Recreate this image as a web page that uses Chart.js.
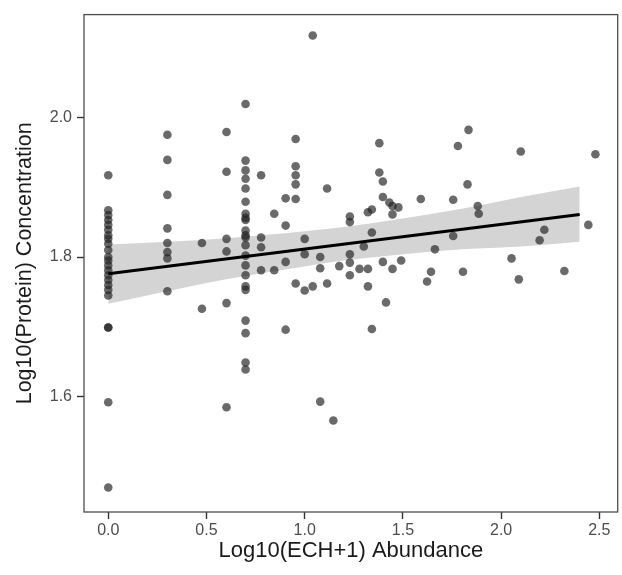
<!DOCTYPE html>
<html>
<head>
<meta charset="utf-8">
<script src="https://cdn.jsdelivr.net/npm/chart.js@4.4.0/dist/chart.umd.min.js"></script>
<style>
html,body{margin:0;padding:0;background:#fff;}
#wrap{width:622px;height:575px;position:relative;}
</style>
</head>
<body>
<div id="wrap"><canvas id="c" width="622" height="575"></canvas></div>
<script>
// Observed points: Log10(ECH+1) abundance (x) and Log10(protein) concentration (y)
const abundance = [
  0,0,0,0,0,0,0,0,0,0,0,0,0,0,0,0,0,0,0,0,0,0,0,
  0.301,0.301,0.301,0.301,0.301,0.301,0.301,0.301,
  0.477,0.477,
  0.602,0.602,0.602,0.602,0.602,0.602,
  0.699,0.699,0.699,0.699,0.699,0.699,0.699,0.699,0.699,0.699,0.699,0.699,0.699,0.699,0.699,0.699,0.699,0.699,0.699,0.699,0.699,0.699,
  0.778,0.778,0.778,0.778,
  0.845,0.845,
  0.903,0.903,0.903,0.903,
  0.954,0.954,0.954,0.954,0.954,0.954,
  1.000,1.000,1.000,
  1.041,1.041,
  1.079,1.079,1.079,
  1.114,1.114,
  1.146,
  1.176,
  1.230,1.230,1.230,1.230,1.230,
  1.279,
  1.301,
  1.322,1.322,1.322,
  1.342,1.342,1.342,
  1.380,1.380,
  1.398,1.398,1.398,
  1.414,
  1.431,
  1.447,1.447,1.447,
  1.477,
  1.491,
  1.591,
  1.623,
  1.643,
  1.663,
  1.756,1.756,
  1.780,
  1.806,
  1.829,
  1.834,
  1.881,
  1.886,
  2.053,
  2.090,
  2.100,
  2.196,
  2.220,
  2.322,
  2.444,
  2.480
];
const concentration = [
  1.917,1.867,1.860,1.853,1.846,1.839,1.831,1.826,1.819,1.810,1.800,1.795,1.788,1.781,1.774,1.767,1.760,1.753,1.745,1.699,1.699,1.592,1.470,
  1.975,1.939,1.889,1.841,1.820,1.807,1.798,1.751,
  1.820,1.726,
  1.979,1.922,1.826,1.808,1.734,1.585,
  2.019,1.938,1.924,1.912,1.898,1.879,1.862,1.856,1.853,1.838,1.831,1.828,1.817,1.802,1.788,1.774,1.758,1.753,1.709,1.691,1.649,1.639,
  1.917,1.828,1.814,1.781,
  1.862,1.781,
  1.884,1.845,1.793,1.696,
  1.969,1.930,1.917,1.904,1.883,1.762,
  1.826,1.804,1.752,
  2.117,1.758,
  1.800,1.784,1.593,
  1.898,1.762,
  1.566,
  1.787,
  1.858,1.850,1.804,1.792,1.774,
  1.783,
  1.815,
  1.864,1.783,1.758,
  1.868,1.835,1.697,
  1.963,1.921,
  1.908,1.886,1.793,
  1.735,
  1.878,
  1.873,1.861,1.783,
  1.871,
  1.795,
  1.883,
  1.765,
  1.779,
  1.811,
  1.882,1.830,
  1.959,
  1.779,
  1.904,
  1.982,
  1.873,
  1.862,
  1.798,
  1.768,
  1.951,
  1.824,
  1.839,
  1.780,
  1.846,
  1.947
];
// Fitted linear trend and its confidence band
const fitX = [0, 2.40];
const fitY = [1.776, 1.861];
const bandX = [0, 0.3, 0.6, 0.9, 1.2, 1.5, 1.8, 2.1, 2.4];
const bandUpper = [1.818, 1.822, 1.827, 1.834, 1.843, 1.855, 1.869, 1.886, 1.901];
const bandLower = [1.733, 1.751, 1.768, 1.782, 1.795, 1.804, 1.811, 1.815, 1.822];
// Axis ticks
const xTicks = [0.0, 0.5, 1.0, 1.5, 2.0, 2.5];
const yTicks = [1.6, 1.8, 2.0];

const pts = abundance.map((x, i) => ({x: x, y: concentration[i]}));
const fitPts = fitX.map((x, i) => ({x: x, y: fitY[i]}));
const upPts = bandX.map((x, i) => ({x: x, y: bandUpper[i]}));
const loPts = bandX.map((x, i) => ({x: x, y: bandLower[i]}));

const FONT = "'Liberation Sans', Arial, Helvetica, sans-serif";

const panelBorder = {
  id: 'panelBorder',
  afterDraw(chart) {
    const a = chart.chartArea, ctx = chart.ctx;
    ctx.save();
    ctx.strokeStyle = '#4d4d4d';
    ctx.lineWidth = 1.3;
    ctx.strokeRect(a.left, a.top, a.right - a.left, a.bottom - a.top);
    ctx.restore();
  }
};

new Chart(document.getElementById('c'), {
  type: 'scatter',
  data: {
    datasets: [
      {
        type: 'line', data: fitPts, borderColor: '#000', borderWidth: 3,
        pointRadius: 0, fill: false, order: 0
      },
      {
        type: 'scatter', data: pts, backgroundColor: 'rgba(35,35,35,0.68)',
        borderWidth: 0, pointRadius: 4.3, order: 1
      },
      {
        type: 'line', data: upPts, borderWidth: 0, borderColor: 'rgba(0,0,0,0)',
        pointRadius: 0, fill: '+1', backgroundColor: 'rgba(153,153,153,0.42)',
        cubicInterpolationMode: 'monotone', order: 2
      },
      {
        type: 'line', data: loPts, borderWidth: 0, borderColor: 'rgba(0,0,0,0)',
        pointRadius: 0, fill: false, cubicInterpolationMode: 'monotone', order: 3
      }
    ]
  },
  options: {
    responsive: false,
    animation: false,
    devicePixelRatio: 1,
    layout: {padding: {top: 11, right: 4, left: 0, bottom: 0}},
    plugins: {legend: {display: false}, tooltip: {enabled: false}},
    scales: {
      x: {
        type: 'linear', min: -0.1235, max: 2.5935,
        afterFit(s) { s.height = 63; },
        afterBuildTicks(s) { s.ticks = xTicks.map(v => ({value: v})); },
        border: {display: false},
        grid: {drawOnChartArea: false, drawTicks: true, tickLength: 7, tickColor: '#333', tickWidth: 1.4},
        ticks: {color: '#4d4d4d', font: {family: FONT, size: 16}, padding: 2,
                callback: v => Number(v).toFixed(1), maxRotation: 0},
        title: {display: true, text: 'Log10(ECH+1) Abundance', color: '#1a1a1a',
                font: {family: FONT, size: 22}, padding: {top: 0, bottom: 11}}
      },
      y: {
        type: 'linear', min: 1.435, max: 2.147,
        afterFit(s) { s.width = 84; },
        afterBuildTicks(s) { s.ticks = yTicks.map(v => ({value: v})); },
        border: {display: false},
        grid: {drawOnChartArea: false, drawTicks: true, tickLength: 7, tickColor: '#333', tickWidth: 1.4},
        ticks: {color: '#4d4d4d', font: {family: FONT, size: 16}, padding: 5,
                callback: v => Number(v).toFixed(1)},
        title: {display: true, text: 'Log10(Protein) Concentration', color: '#1a1a1a',
                font: {family: FONT, size: 21.5}, padding: {top: 12, bottom: 0}}
      }
    }
  },
  plugins: [panelBorder]
});
</script>
</body>
</html>
